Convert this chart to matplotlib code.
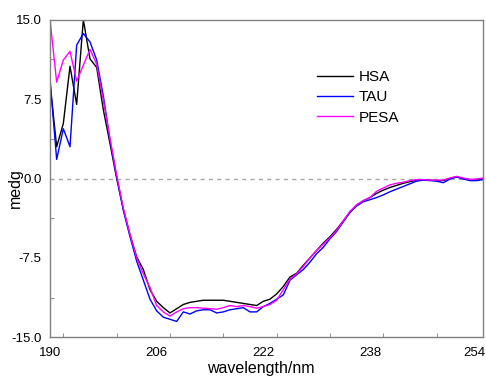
import numpy as np
import matplotlib
matplotlib.use("Agg")
import matplotlib.pyplot as plt
import matplotlib.transforms as mtransforms
from matplotlib.ticker import MultipleLocator

plt.rcParams['font.family'] = ['Liberation Sans', 'DejaVu Sans']

wavelength = list(range(190, 256))

hsa = [9.0, 3.0, 5.2, 10.6, 7.0, 15.0, 11.3, 10.5, 6.5, 3.3,
       0.0, -2.9, -5.3, -7.4, -8.6, -10.5, -11.6, -12.2, -12.7, -12.3,
       -11.9, -11.7, -11.6, -11.5, -11.5, -11.5, -11.5, -11.6, -11.7, -11.8,
       -11.9, -12.0, -11.6, -11.4, -10.9, -10.2, -9.3, -8.95, -8.2, -7.5,
       -6.8, -6.1, -5.5, -4.8, -4.0, -3.2, -2.5, -2.1, -1.8, -1.4,
       -1.1, -0.85, -0.65, -0.45, -0.3, -0.15, -0.15, -0.15, -0.2, -0.2,
       0.0, 0.15, 0.0, -0.1, -0.1, -0.05]

tau = [9.4, 1.8, 4.7, 3.0, 12.6, 13.7, 12.9, 11.2, 7.8, 3.6,
       0.2, -3.0, -5.5, -7.8, -9.6, -11.4, -12.5, -13.1, -13.3, -13.5,
       -12.6, -12.8, -12.5, -12.4, -12.4, -12.7, -12.6, -12.4, -12.3, -12.2,
       -12.6, -12.6, -12.1, -11.8, -11.4, -11.0, -9.6, -9.1, -8.6, -7.9,
       -7.1, -6.5, -5.7, -5.0, -4.1, -3.2, -2.6, -2.2, -2.0, -1.8,
       -1.55, -1.25, -1.0, -0.75, -0.5, -0.25, -0.15, -0.2, -0.25, -0.4,
       -0.05, 0.15, -0.05, -0.2, -0.2, -0.1]

pesa = [15.0, 9.1, 11.2, 12.0, 9.2, 10.7, 12.2, 10.8, 7.4, 3.8,
        0.3, -2.8, -5.3, -7.5, -9.0, -10.3, -12.0, -12.6, -13.0, -12.6,
        -12.3, -12.2, -12.2, -12.25, -12.3, -12.35, -12.2, -12.0, -12.1, -12.0,
        -12.1, -12.25, -12.1, -11.9, -11.5, -10.5, -9.5, -9.0, -8.3, -7.5,
        -6.8, -6.2, -5.6, -4.9, -4.0, -3.1, -2.5, -2.1, -1.8, -1.2,
        -0.9, -0.6, -0.45, -0.35, -0.2, -0.1, -0.1, -0.15, -0.15, -0.15,
        0.05, 0.2, 0.05, -0.1, -0.05, 0.05]

series_names = ["HSA", "TAU", "PESA"]
series_colors = ["#000000", "#0000ff", "#ff00ff"]
x_ticks = [190, 206, 222, 238, 254]
y_ticks = [-15.0, -7.5, 0.0, 7.5, 15.0]

fig = plt.figure(figsize=(4.86, 3.76), dpi=100)
ax = fig.add_axes([50/486, (376-337.3)/376, (483.3-50)/486, (337.3-19.7)/376])

ax.axhline(0, color="#a8a8a8", lw=1.0, linestyle=(0, (3, 3)), zorder=1)
for vals, name, col in zip([hsa, tau, pesa], series_names, series_colors):
    ax.plot(wavelength, vals, color=col, lw=1.0, label=name, zorder=2)

ax.set_xlim(190, 255)
ax.set_ylim(-15, 15)
ax.set_xticks(x_ticks)
ax.set_yticks(y_ticks)
ax.set_yticklabels([f"{v:.1f}" for v in y_ticks])
ax.xaxis.set_minor_locator(MultipleLocator(8))
ax.yaxis.set_minor_locator(MultipleLocator(3.75))
ax.tick_params(which="major", length=0, labelsize=9.5, pad=6, colors="#000000")
ax.tick_params(which="minor", direction="in", length=3, color="#808080")
ax.tick_params(axis="x", which="major", pad=7)

for s in ax.spines.values():
    s.set_color("#808080")
    s.set_linewidth(1.0)

# nudge the last x tick label slightly left so it stays inside the figure
last_lbl = ax.get_xticklabels()[-1]
last_lbl.set_transform(last_lbl.get_transform() +
                       mtransforms.ScaledTranslation(-2/100, 0, fig.dpi_scale_trans))

ax.set_xlabel("wavelength/nm", fontsize=11.5)
ax.set_ylabel("medg", fontsize=11.5)
ax.xaxis.set_label_coords((261-50)/433.3, -0.075)
ax.yaxis.set_label_coords(-0.062, 0.47)

leg = ax.legend(loc="upper left", bbox_to_anchor=((316.7-50)/433.3, (337.3-70)/317.6),
                frameon=False, fontsize=11, handlelength=2.4, handletextpad=0.35,
                labelspacing=0.42, borderpad=0, borderaxespad=0)

fig.savefig("out.png", dpi=100)
